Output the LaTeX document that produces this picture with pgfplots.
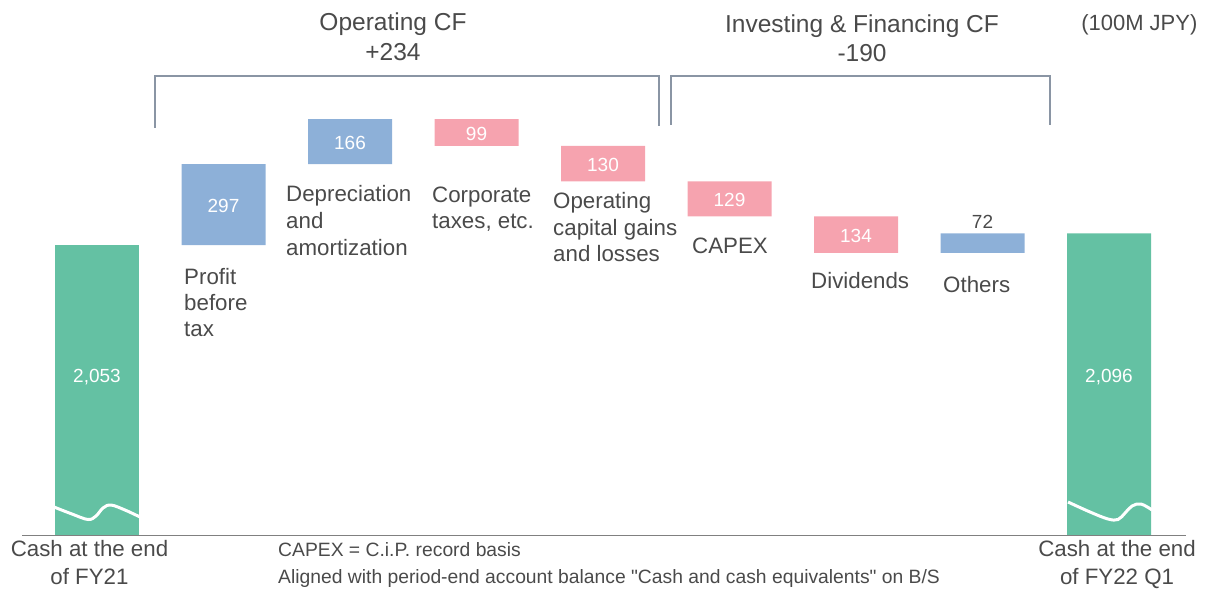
\documentclass[border=0pt]{standalone}
\usepackage{fontspec}
\setmainfont{Liberation Sans}
\usepackage{pgfplots}
\usepackage{pgfplotstable}
\pgfplotsset{compat=1.18}
\definecolor{cgreen}{HTML}{64C1A3}
\definecolor{cblue}{HTML}{8DB0D8}
\definecolor{cpink}{HTML}{F6A3AF}
\definecolor{ctext}{HTML}{4A4A4A}
\definecolor{cbrack}{HTML}{8A95A4}
\definecolor{cbase}{HTML}{808080}
\tikzset{vlab/.style={font=\fontsize{19}{22}\selectfont, text=white, inner sep=0pt, yshift=-1.5pt},
  ttl/.style={font=\fontsize{24.5}{29}\selectfont, text=ctext, inner sep=0pt, anchor=base},
  lab/.style={font=\fontsize{22.3}{27}\selectfont, text=ctext, inner sep=0pt, anchor=base west},
  labc/.style={font=\fontsize{22.3}{27}\selectfont, text=ctext, inner sep=0pt, anchor=base},
  foot/.style={font=\fontsize{19.3}{23}\selectfont, text=ctext, inner sep=0pt, anchor=base west}}
\pgfplotstableread{
pos base green blue pink
0 987 1066 0 0
1 2053 0 297 0
2 2350 0 166 0
3 2417 0 0 99
4 2287 0 0 130
5 2158 0 0 129
6 2024 0 0 134
7 2024 0 72 0
8 987 1109 0 0
}\wf
\begin{document}
\begin{tikzpicture}
\begin{axis}[scale only axis, width=1209pt, height=593pt,
  xmin=-0.7668, xmax=8.7905, ymin=774.1, ymax=2953.4,
  hide axis, ybar stacked, bar width=0.664, clip=false]
\addplot[draw=none, fill=white, opacity=0] table[x=pos,y=base]{\wf};
\addplot[draw=none, fill=cgreen] table[x=pos,y=green]{\wf};
\addplot[draw=none, fill=cblue] table[x=pos,y=blue]{\wf};
\addplot[draw=none, fill=cpink] table[x=pos,y=pink]{\wf};
\coordinate (v0) at (axis cs:0,1572);
\coordinate (v1) at (axis cs:1,2201.5);
\coordinate (v2) at (axis cs:2,2433);
\coordinate (v3) at (axis cs:3,2466.5);
\coordinate (v4) at (axis cs:4,2352);
\coordinate (v5) at (axis cs:5,2222.5);
\coordinate (v6) at (axis cs:6,2091);
\coordinate (v7) at (axis cs:7,2145);
\coordinate (v8) at (axis cs:8,1572);
\end{axis}
\node[vlab] at (v0) {2,053};
\node[vlab] at (v1) {297};
\node[vlab] at (v2) {166};
\node[vlab] at (v3) {99};
\node[vlab] at (v4) {130};
\node[vlab] at (v5) {129};
\node[vlab] at (v6) {134};
\node[vlab] at (v8) {2,096};
\node[vlab, text=ctext] at (v7) {72};
\begin{scope}[x=1pt,y=-1pt,shift={(current axis.north west)}]
\draw[cbase, line width=1.6pt] (22,535.5) -- (1186,535.5);
\draw[white, line width=3pt] plot[smooth, tension=0.6] coordinates {(54,507) (72,514) (88,519.5) (96,516) (103,508) (111,505) (125,510) (140,517)};
\draw[white, line width=3pt] plot[smooth, tension=0.6] coordinates {(1068,502) (1090,512) (1108,519) (1118,519.5) (1125,513) (1132,506) (1141,504) (1152,510)};
\draw[cbrack, line width=2pt] (155.3,127.7) -- (155.3,76.3) -- (658.7,76.3) -- (658.7,126);
\draw[cbrack, line width=2pt] (671.3,125) -- (671.3,76.3) -- (1050.3,76.3) -- (1050.3,125);
\node[ttl] at (393,31) {Operating CF};
\node[ttl] at (393,60.7) {+234};
\node[ttl] at (862,32.3) {Investing \& Financing CF};
\node[ttl] at (862,61.7) {-190};
\node[lab, font=\fontsize{22}{26}\selectfont] at (1081,31) {(100M JPY)};
\node[lab] at (184,284.3) {Profit};
\node[lab] at (184,310.5) {before};
\node[lab] at (184,336.7) {tax};
\node[lab] at (286,202) {Depreciation};
\node[lab] at (286,228.5) {and};
\node[lab] at (286,255) {amortization};
\node[lab] at (432,202.5) {Corporate};
\node[lab] at (432,229) {taxes, etc.};
\node[lab] at (553,208.5) {Operating};
\node[lab] at (553,235) {capital gains};
\node[lab] at (553,261.5) {and losses};
\node[lab] at (692,253.5) {CAPEX};
\node[lab] at (811,288.5) {Dividends};
\node[lab] at (943,292.5) {Others};
\node[labc] at (89.5,556.7) {Cash at the end};
\node[labc] at (89.5,584.3) {of FY21};
\node[labc] at (1117,556.7) {Cash at the end};
\node[labc] at (1117,584.3) {of FY22 Q1};
\node[foot] at (278,556) {CAPEX = C.i.P. record basis};
\node[foot] at (278,583.3) {Aligned with period-end account balance \textquotedbl Cash and cash equivalents\textquotedbl{} on B/S};
\end{scope}
\pgfresetboundingbox
\path[use as bounding box] (current axis.south west) rectangle (current axis.north east);
\end{tikzpicture}
\end{document}
